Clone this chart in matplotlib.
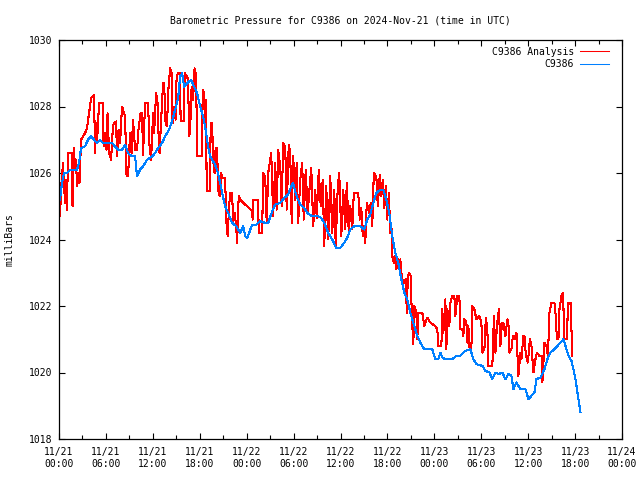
import matplotlib
matplotlib.use("Agg")
import matplotlib.pyplot as plt
import matplotlib.dates as mdates
import pandas as pd

# ---------------- data ----------------
start = pd.Timestamp("2024-11-21 00:00")

analysis_hours = [
    0.13, 0.26, 0.51, 0.77, 0.90, 1.02, 1.15, 1.66, 1.73, 1.92, 2.05, 2.18, 2.30, 2.43, 2.62,
    2.82, 3.07, 3.33, 3.58, 3.78, 3.97, 4.10, 4.48, 4.61, 4.74, 4.86, 5.12, 5.63, 5.70, 5.89,
    6.08, 6.21, 6.40, 6.66, 6.91, 7.30, 7.42, 7.62, 7.81, 8.06, 8.45, 8.64, 8.83, 9.09, 9.28,
    9.47, 9.73, 9.98, 10.18, 10.43, 10.62, 10.75, 11.01, 11.39, 11.58, 11.78, 12.03, 12.16,
    12.42, 12.61, 12.74, 12.86, 13.06, 13.31, 13.44, 13.63, 13.82, 13.95, 14.21, 14.40, 14.53,
    14.78, 14.91, 15.04, 15.23, 15.49, 15.55, 16.00, 16.06, 16.38, 16.51, 16.64, 16.77, 16.96,
    17.15, 17.34, 17.54, 17.66, 18.30, 18.37, 18.56, 18.69, 18.82, 18.88, 19.33, 19.39, 19.58,
    19.71, 19.90, 20.03, 20.22, 20.35, 20.54, 20.74, 20.86, 21.25, 21.38, 21.57, 21.76, 21.89,
    22.14, 22.27, 22.46, 22.66, 22.78, 22.98, 23.17, 24.70, 24.77, 24.83, 25.47, 25.54, 25.98,
    26.11, 26.37, 26.56, 26.75, 27.01, 27.14, 27.39, 27.65, 27.84, 28.03, 28.29, 28.48, 28.67,
    28.93, 29.12, 29.38, 29.57, 29.76, 29.95, 30.21, 30.40, 30.59, 30.85, 31.10, 31.30, 31.55,
    31.81, 32.06, 32.26, 32.51, 32.77, 32.96, 33.22, 33.47, 33.73, 33.92, 34.18, 34.43, 34.69,
    34.94, 35.20, 35.39, 35.65, 35.84, 36.10, 36.35, 36.61, 36.80, 37.06, 37.25, 37.50, 37.70,
    38.27, 38.46, 38.66, 38.85, 39.04, 39.17, 39.36, 39.68, 39.87, 40.06, 40.26, 40.58, 40.77,
    41.02, 41.22, 41.41, 41.60, 41.79, 41.98, 42.18, 42.37, 42.50, 42.62, 42.82, 43.01, 43.14,
    43.33, 43.52, 43.65, 43.78, 43.90, 44.16, 44.35, 44.48, 44.61, 44.80, 44.99, 45.12, 45.31,
    45.44, 45.70, 45.82, 45.95, 46.46, 46.72, 47.10, 47.49, 48.13, 48.38, 48.51, 48.90, 49.02,
    49.15, 49.41, 49.54, 49.66, 49.92, 50.05, 50.30, 50.56, 50.69, 50.94, 51.20, 51.33, 51.58,
    51.71, 51.84, 52.10, 52.22, 52.35, 52.48, 52.74, 52.86, 53.12, 53.38, 53.76, 54.02, 54.14,
    54.40, 54.59, 54.78, 54.91, 55.42, 55.62, 55.81, 56.00, 56.26, 56.45, 56.64, 56.83, 57.09,
    57.34, 57.47, 57.60, 57.86, 58.05, 58.24, 58.50, 58.75, 59.01, 59.14, 59.39, 59.52, 59.71,
    59.97, 60.22, 60.42, 60.67, 60.93, 61.12, 61.44, 61.76, 61.82, 62.08, 62.34, 62.53, 62.72,
    62.98, 63.36, 63.49, 63.68, 63.87, 64.00, 64.26, 64.45, 64.64, 64.96, 65.09, 65.41, 65.54,
    65.66,
]
analysis_mb = [
    1024.7, 1025.5, 1026.3, 1025.1, 1025.8, 1024.9, 1026.6, 1026.6, 1025.0, 1026.75, 1026.1,
    1026.4, 1025.6, 1026.0, 1025.7,
    1027.0, 1027.1, 1027.2, 1027.35, 1027.7, 1028.0, 1028.25, 1028.35, 1026.6, 1027.5, 1026.9,
    1028.1, 1028.1, 1026.8, 1027.2,
    1026.7, 1027.8, 1026.6, 1026.4, 1027.45, 1027.55, 1026.5, 1027.3, 1026.9, 1028.0, 1027.7,
    1025.9, 1025.9, 1027.2, 1026.6,
    1027.6, 1026.7, 1026.7, 1027.35, 1027.8, 1027.8, 1026.55, 1028.1, 1028.1, 1026.8, 1026.4,
    1027.8, 1027.2,
    1028.4, 1028.1, 1027.1, 1026.6, 1027.6, 1028.7, 1028.7, 1027.5, 1027.4, 1028.4, 1029.15,
    1029.0, 1027.5,
    1028.0, 1027.6, 1028.9, 1029.0, 1029.0, 1027.55, 1027.55, 1029.0, 1028.9, 1028.8, 1027.1,
    1027.3, 1028.6,
    1028.2, 1029.15, 1028.9, 1026.5, 1026.5, 1028.5, 1028.4, 1027.5, 1028.2, 1025.45, 1025.45,
    1027.5, 1027.5,
    1026.4, 1026.0, 1026.75, 1026.75, 1025.5, 1025.3, 1026.0, 1025.85, 1025.85, 1024.6, 1024.1,
    1025.0, 1025.4,
    1025.4, 1024.5, 1024.8, 1024.4, 1023.9, 1025.3, 1025.2, 1024.85, 1024.6, 1025.2, 1025.2,
    1024.2, 1024.2,
    1026.0, 1025.9, 1024.5, 1026.0, 1026.4, 1026.6, 1024.7, 1026.3, 1024.9, 1026.7, 1026.2,
    1025.0, 1026.9,
    1026.8, 1024.9, 1026.85, 1026.6, 1024.5, 1026.5, 1025.2, 1026.3, 1024.5, 1025.8, 1026.3,
    1024.6, 1026.1,
    1024.8, 1025.6, 1026.15, 1024.4, 1025.5, 1024.65, 1026.1, 1025.0, 1025.8, 1023.8, 1025.6,
    1024.0, 1025.9,
    1024.2, 1025.5, 1023.8, 1025.6, 1026.0, 1024.1, 1025.5, 1024.3, 1025.7, 1024.2, 1025.0,
    1024.3, 1025.4,
    1025.4, 1024.6, 1024.95, 1024.1, 1024.4, 1023.9, 1025.1, 1024.8, 1025.1, 1024.4, 1026.0,
    1025.9, 1025.0,
    1025.95, 1025.3, 1025.8, 1024.95, 1025.6, 1024.6, 1025.4, 1024.2, 1024.5, 1023.5, 1023.3,
    1023.5, 1023.1,
    1023.4, 1023.1, 1023.4, 1023.0, 1022.8, 1022.7, 1022.8, 1021.8, 1022.9, 1023.0, 1022.9,
    1021.7, 1020.85,
    1022.0, 1021.8, 1021.0, 1021.8, 1021.8, 1021.4, 1021.65, 1021.5, 1021.4, 1021.3, 1020.8,
    1020.8, 1021.9,
    1021.2, 1022.2, 1020.7, 1021.9, 1021.4, 1022.1, 1022.3, 1022.3, 1021.7, 1022.3, 1022.3,
    1021.3, 1021.3,
    1021.1, 1021.6, 1021.5, 1020.9, 1021.4, 1020.75, 1020.75, 1022.0, 1021.9, 1021.6, 1021.7,
    1021.5, 1020.6,
    1020.7, 1021.65, 1021.3, 1020.2, 1020.2, 1021.7, 1020.6, 1021.4, 1021.9, 1020.8, 1021.5,
    1021.5, 1021.1,
    1021.6, 1021.5, 1020.6, 1020.7, 1021.1, 1021.0, 1021.2, 1019.9, 1020.6, 1020.4, 1021.1,
    1021.1, 1020.5,
    1020.3, 1021.0, 1020.8, 1020.0, 1020.4, 1020.6, 1020.5, 1020.5, 1019.7, 1020.9, 1020.8,
    1020.5, 1021.8,
    1022.1, 1022.1, 1021.8, 1021.0, 1021.0, 1021.9, 1022.3, 1022.4, 1021.0, 1021.0, 1022.1,
    1022.1, 1021.3,
    1020.5,
]

station_hours = [
    0.13, 0.38, 0.64, 1.02, 1.41, 1.92, 2.30, 2.56, 2.82, 3.33, 3.71, 4.10, 4.48, 4.86, 5.25, 5.63,
    6.27, 6.78, 7.17, 7.55, 8.06, 8.45, 8.83, 9.34, 9.73, 9.98, 10.37, 10.75, 11.26, 11.90, 12.29,
    12.67, 13.18, 13.57, 14.08, 14.46, 14.85, 15.23, 15.49, 15.74, 16.00, 16.38, 16.90, 17.28,
    17.66, 18.05, 18.43, 18.69, 19.07, 19.33, 19.84, 20.22, 20.61, 20.86, 21.25, 21.63, 22.14,
    22.66, 23.17, 23.55, 23.81, 24.06, 24.32, 24.70, 25.22, 25.73, 26.37, 26.75, 27.26, 27.65,
    28.29, 28.80, 29.31, 29.70, 29.95, 30.21, 30.46, 30.85, 31.36, 31.74, 32.38, 33.15, 33.54,
    33.92, 34.43, 34.94, 35.46, 35.97, 36.48, 36.86, 37.25, 37.76, 38.53, 39.04, 39.42, 39.81,
    40.19, 40.58, 41.09, 41.47, 41.86, 42.24, 42.62, 43.01, 43.39, 43.78, 44.16, 44.54, 44.93,
    45.44, 45.82, 46.21, 46.72, 47.74, 48.13, 48.51, 48.77, 49.02, 49.41, 50.30, 50.82, 51.33,
    51.97, 52.61, 52.99, 53.38, 54.14, 54.53, 55.04, 55.42, 55.81, 56.19, 56.70, 57.09, 57.47,
    57.86, 58.11, 58.50, 59.01, 59.65, 60.03, 60.42, 60.80, 61.06, 61.57, 62.08, 62.46, 62.85,
    63.36, 63.74, 64.13, 64.51, 64.77, 65.16, 65.54, 65.79, 66.05, 66.30, 66.69,
]
station_mb = [
    1025.2, 1025.7, 1026.0, 1026.0, 1026.1, 1026.1, 1026.1, 1026.3, 1026.75, 1026.8, 1027.0,
    1027.1, 1027.0, 1026.9, 1027.0, 1026.9, 1026.9, 1026.9, 1026.8, 1026.7, 1026.7, 1026.85,
    1026.6, 1026.5, 1026.5, 1025.9, 1026.1, 1026.2, 1026.4, 1026.5, 1026.6, 1026.75, 1026.9,
    1027.1, 1027.3, 1027.55, 1027.9, 1028.25, 1028.9, 1029.0, 1028.6, 1028.7, 1028.8, 1028.6,
    1028.4, 1028.0, 1027.7, 1027.4, 1026.8, 1026.5, 1026.3, 1026.1, 1025.7, 1025.4, 1025.0,
    1024.8, 1024.5, 1024.4, 1024.2, 1024.4, 1024.1, 1024.05, 1024.2, 1024.45, 1024.45, 1024.55,
    1024.5, 1024.5, 1024.85, 1025.05, 1025.1, 1025.25, 1025.35, 1025.6, 1025.7, 1025.45,
    1025.25, 1025.05, 1024.95, 1024.8, 1024.7, 1024.7, 1024.65, 1024.5, 1024.2, 1024.0,
    1023.75, 1023.75, 1023.9, 1024.05, 1024.3, 1024.4, 1024.4, 1024.3, 1024.6, 1024.75, 1025.1,
    1025.4, 1025.5, 1025.5, 1025.2, 1024.8, 1024.1, 1023.6, 1023.3, 1022.8, 1022.4, 1022.2,
    1021.8, 1021.4, 1021.1, 1020.9, 1020.7, 1020.7, 1020.4, 1020.4, 1020.6, 1020.45, 1020.4,
    1020.4, 1020.5, 1020.5, 1020.65, 1020.7, 1020.4, 1020.25, 1020.2, 1020.05, 1020.0, 1019.8,
    1020.0, 1019.95, 1020.0, 1019.8, 1019.95, 1019.9, 1019.5, 1019.7, 1019.5, 1019.5, 1019.2,
    1019.3, 1019.4, 1019.8, 1019.85, 1020.1, 1020.4, 1020.6, 1020.7, 1020.8, 1020.9, 1021.0,
    1020.8, 1020.5, 1020.35, 1020.1, 1019.8, 1019.4, 1018.8,
]

title = "Barometric Pressure for C9386 on 2024-Nov-21 (time in UTC)"
ylabel = "milliBars"
series_names = ["C9386 Analysis", "C9386"]
series_colors = ["#ff0000", "#0080ff"]
y_ticks = [1018, 1020, 1022, 1024, 1026, 1028, 1030]

# ---------------- plot ----------------
plt.rcParams["font.family"] = ["DejaVu Sans Mono"]
plt.rcParams["font.size"] = 7

fig = plt.figure(figsize=(6.4, 4.8), dpi=100)
ax = fig.add_axes([59 / 640, 1 - 439 / 480, 563 / 640, 399 / 480])

t_an = start + pd.to_timedelta(analysis_hours, unit="h")
t_st = start + pd.to_timedelta(station_hours, unit="h")

ax.plot(t_an, analysis_mb, color=series_colors[0], lw=0.75, antialiased=False,
        label=series_names[0])
ax.plot(t_st, station_mb, color=series_colors[1], lw=0.75, antialiased=False,
        label=series_names[1])

ax.set_xlim(start, start + pd.Timedelta(hours=72))
ax.set_ylim(1018, 1030)
ax.set_yticks(y_ticks)
ax.xaxis.set_major_locator(mdates.HourLocator(byhour=[0, 6, 12, 18]))
ax.xaxis.set_minor_locator(mdates.HourLocator(byhour=range(0, 24, 3)))
ax.xaxis.set_major_formatter(mdates.DateFormatter("%m/%d\n%H:%M"))

ax.tick_params(axis="both", which="major", direction="in", length=4, width=0.8,
               top=True, right=True, pad=5, labelsize=7)
ax.tick_params(axis="x", which="minor", direction="in", length=3, width=0.8,
               top=True, bottom=True)
ax.tick_params(axis="x", which="major", pad=6)
for s in ax.spines.values():
    s.set_linewidth(0.9)

ax.set_title(title, fontsize=7, pad=12)
fig.text(10 / 640, 0.5, ylabel, rotation=90, va="center", ha="center", fontsize=7)

ax.legend(loc="upper right", frameon=False, markerfirst=False, handlelength=3.0,
          handletextpad=0.6, labelspacing=0.25, borderaxespad=0.3,
          bbox_to_anchor=(1 - 6 / 563, 1.0), fontsize=7)

fig.savefig("out.png", dpi=100)
